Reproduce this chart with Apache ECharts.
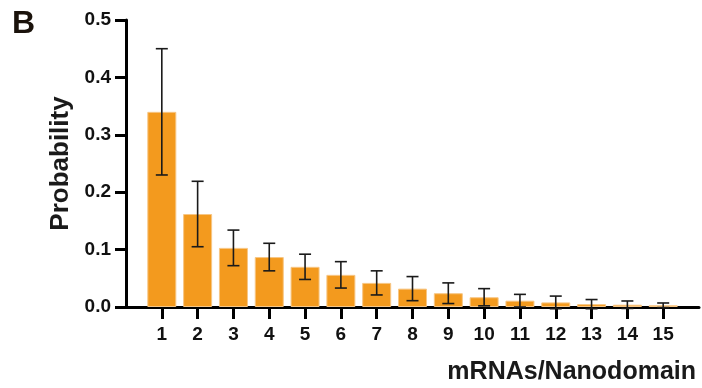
<!DOCTYPE html>
<html>
<head>
<meta charset="utf-8">
<script src="https://cdn.jsdelivr.net/npm/echarts@6/dist/echarts.min.js"></script>
<style>
  html, body { margin: 0; padding: 0; background: #fff; }
  #chart { width: 702px; height: 388px; }
</style>
</head>
<body>
<div id="chart"></div>
<script>
// mRNAs per nanodomain
var categories = [1, 2, 3, 4, 5, 6, 7, 8, 9, 10, 11, 12, 13, 14, 15];
// probability (bar height)
var means = [0.34, 0.162, 0.103, 0.087, 0.070, 0.056, 0.042, 0.032, 0.024, 0.017, 0.011, 0.008, 0.005, 0.004, 0.003];
// error (+/-)
var errors = [0.11, 0.057, 0.031, 0.024, 0.022, 0.023, 0.021, 0.021, 0.018, 0.015, 0.011, 0.011, 0.008, 0.0065, 0.004];
var yTicks = [0, 0.1, 0.2, 0.3, 0.4, 0.5];

var FONT = 'Liberation Sans, Arial, sans-serif';

var barData = categories.map(function (c, i) { return [c, means[i]]; });
var errData = categories.map(function (c, i) {
  return [c, means[i] - errors[i], means[i] + errors[i]];
});

var chart = echarts.init(document.getElementById('chart'), null, { renderer: 'canvas' });

chart.setOption({
  animation: false,
  backgroundColor: '#fff',
  grid: { left: 126, right: 3, top: 20, bottom: 81 },
  graphic: [{
    type: 'text',
    left: 12,
    top: 8,
    style: { text: 'B', fontFamily: FONT, fontWeight: 'bold', fontSize: 32, fill: '#1a120b' }
  }],
  xAxis: {
    type: 'value',
    min: 0,
    max: 16,
    name: 'mRNAs/Nanodomain',
    nameLocation: 'end',
    nameGap: 0,
    nameTextStyle: {
      fontFamily: FONT, fontWeight: 'bold', fontSize: 25, color: '#1a1a1a',
      align: 'right', verticalAlign: 'top', padding: [53, 3, 0, 0]
    },
    splitLine: { show: false },
    axisLine: { show: true, onZero: false, lineStyle: { color: '#000', width: 3 } },
    axisTick: { show: true, length: 12, customValues: categories, lineStyle: { color: '#000', width: 3 } },
    axisLabel: {
      customValues: categories,
      margin: 18,
      fontFamily: FONT, fontWeight: 'bold', fontSize: 19, color: '#111'
    }
  },
  yAxis: {
    type: 'value',
    min: 0,
    max: 0.5,
    interval: 0.1,
    name: 'Probability',
    nameLocation: 'middle',
    nameRotate: 90,
    nameGap: 47,
    nameTextStyle: { fontFamily: FONT, fontWeight: 'bold', fontSize: 26, color: '#1a1a1a' },
    splitLine: { show: false },
    axisLine: { show: true, lineStyle: { color: '#000', width: 3 } },
    axisTick: { show: true, length: 11, customValues: yTicks, lineStyle: { color: '#000', width: 3 } },
    axisLabel: {
      customValues: yTicks,
      margin: 15,
      fontFamily: FONT, fontWeight: 'bold', fontSize: 19, color: '#111',
      formatter: function (v) { return v.toFixed(1); }
    }
  },
  series: [{
    type: 'bar',
    data: barData,
    barWidth: 29,
    itemStyle: { color: '#F39A1E', borderColor: '#F7C684', borderWidth: 1 },
    z: 2
  }, {
    type: 'custom',
    data: errData,
    z: 3,
    renderItem: function (params, api) {
      var x = api.value(0);
      var lo = api.coord([x, api.value(1)]);
      var hi = api.coord([x, api.value(2)]);
      var cap = 6;
      var style = { stroke: '#1a1a1a', lineWidth: 1.6 };
      return {
        type: 'group',
        children: [
          { type: 'line', shape: { x1: hi[0], y1: hi[1], x2: lo[0], y2: lo[1] }, style: style },
          { type: 'line', shape: { x1: hi[0] - cap, y1: hi[1], x2: hi[0] + cap, y2: hi[1] }, style: style },
          { type: 'line', shape: { x1: lo[0] - cap, y1: lo[1], x2: lo[0] + cap, y2: lo[1] }, style: style }
        ]
      };
    }
  }]
});
</script>
</body>
</html>
